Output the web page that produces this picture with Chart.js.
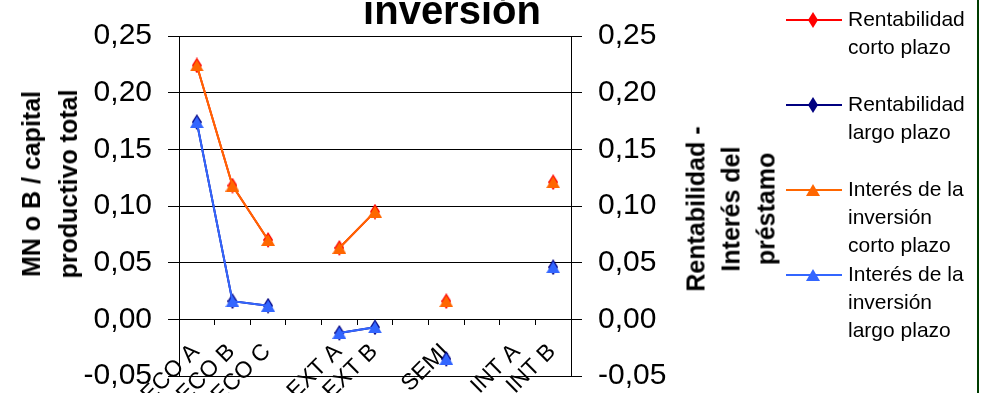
<!DOCTYPE html>
<html>
<head>
<meta charset="utf-8">
<script src="https://cdn.jsdelivr.net/npm/chart.js@4/dist/chart.umd.min.js"></script>
<style>
html, body { margin: 0; padding: 0; background: #ffffff; }
#wrap { position: relative; width: 989px; height: 393px; overflow: hidden; font-family: 'Liberation Sans', Arial, sans-serif; background: #fff; }
#c { position: absolute; left: 0; top: 0; }
.ytitle { position: absolute; white-space: nowrap; text-align: center; font-weight: bold; font-size: 25px; color: #000; transform: translate(-50%, -50%) rotate(-90deg); }
.legtext { position: absolute; font-size: 21px; line-height: 28px; color: #000; width: 122px; }
.legsym { position: absolute; }
#edge { position: absolute; left: 977px; top: 0; width: 2px; height: 393px; background: #003c00; }
</style>
</head>
<body>
<div id="wrap">
  <canvas id="c" width="989" height="393"></canvas>
  <div class="ytitle" id="leftTitle" style="left:50px; top:184px; line-height:37px;"></div>
  <div class="ytitle" id="rightTitle" style="left:731px; top:209px; line-height:35px;"></div>
  <div id="legend"></div>
  <div id="edge"></div>
</div>
<script>
// ---- data ----
const categories = ['ECO A', 'ECO B', 'ECO C', '', 'EXT A', 'EXT B', '', 'SEMI', '', 'INT A', 'INT B'];
const rentabilidadCorto = [0.224, 0.118, 0.070, null, 0.063, 0.095, null, 0.016, null, null, 0.121];
const rentabilidadLargo = [0.174, 0.016, 0.012, null, -0.012, -0.007, null, -0.035, null, null, 0.046];
const interesCorto      = [0.224, 0.118, 0.070, null, 0.063, 0.095, null, 0.016, null, null, 0.121];
const interesLargo      = [0.174, 0.016, 0.012, null, -0.012, -0.007, null, -0.035, null, null, 0.046];
const seriesNames = ['Rentabilidad corto plazo', 'Rentabilidad largo plazo',
                     'Interés de la inversión corto plazo', 'Interés de la inversión largo plazo'];
const chartTitle = 'inversión';
const leftAxisTitle = ['MN o B / capital', 'productivo total'];
const rightAxisTitle = ['Rentabilidad -', 'Interés del', 'préstamo'];
const yMin = -0.05, yMax = 0.25, yStep = 0.05;

// ---- styles ----
const COLORS = ['#ff0000', '#000080', '#ff6600', '#3366ff'];
const FONT = "'Liberation Sans', Arial, sans-serif";

function makeMarker(shape, color) {
  const w = shape === 'tri' ? 14 : 10;
  const h = shape === 'tri' ? 12 : 16;
  const cv = document.createElement('canvas');
  cv.width = w; cv.height = h;
  const g = cv.getContext('2d');
  g.fillStyle = color;
  g.beginPath();
  if (shape === 'tri') {
    g.moveTo(w / 2, 0); g.lineTo(w, h); g.lineTo(0, h);
  } else {
    g.moveTo(w / 2, 0); g.lineTo(w, h / 2); g.lineTo(w / 2, h); g.lineTo(0, h / 2);
  }
  g.closePath();
  g.fill();
  return cv;
}
const markers = [
  makeMarker('dia', COLORS[0]),
  makeMarker('dia', COLORS[1]),
  makeMarker('tri', COLORS[2]),
  makeMarker('tri', COLORS[3])
];
const seriesData = [rentabilidadCorto, rentabilidadLargo, interesCorto, interesLargo];

const fmt = v => (Math.round(v * 100) / 100).toFixed(2).replace('.', ',');

const datasets = seriesData.map((d, i) => ({
  label: seriesNames[i],
  data: d,
  borderColor: COLORS[i],
  backgroundColor: COLORS[i],
  borderWidth: 2,
  pointStyle: markers[i],
  pointRadius: 7,
  pointHoverRadius: 7,
  tension: 0,
  spanGaps: false,
  order: i < 2 ? 1 : 0,
  yAxisID: 'y'
}));

const tickFont = { family: FONT, size: 30, lineHeight: 1 };

new Chart(document.getElementById('c'), {
  type: 'line',
  data: { labels: categories, datasets },
  options: {
    responsive: false,
    animation: false,
    events: [],
    layout: { padding: { left: 0, right: 85, top: 0, bottom: 17 } },
    plugins: {
      legend: { display: false },
      tooltip: { enabled: false },
      title: {
        display: true,
        text: chartTitle,
        color: '#000',
        font: { family: FONT, size: 40, weight: 'bold', lineHeight: 1 },
        padding: { top: -7, bottom: 3 }
      }
    },
    scales: {
      x: {
        type: 'category',
        position: { y: 0 },
        offset: true,
        grid: { display: true, drawOnChartArea: false, drawTicks: true, tickLength: 5, offset: true, color: '#000', lineWidth: 1 },
        border: { display: true, color: '#000', width: 1 },
        ticks: { autoSkip: false, minRotation: 45, maxRotation: 45, labelOffset: -1, padding: 14, color: '#000',
                 font: { family: FONT, size: 23 } },
        afterFit: s => { s.height = 0; }
      },
      y: {
        position: 'left',
        min: yMin, max: yMax,
        ticks: { stepSize: yStep, padding: 16, color: '#000', font: tickFont, callback: v => fmt(v) },
        grid: { color: '#000', lineWidth: 1, tickLength: 11, drawOnChartArea: true, drawTicks: true },
        border: { display: true, color: '#000', width: 1 },
        afterFit: s => { s.width = 179; s.paddingTop = 0; s.paddingBottom = 0; }
      },
      y2: {
        position: 'right',
        min: yMin, max: yMax,
        ticks: { stepSize: yStep, padding: 16, color: '#000', font: tickFont, callback: v => fmt(v) },
        grid: { color: '#000', lineWidth: 1, tickLength: 11, drawOnChartArea: false, drawTicks: true },
        border: { display: true, color: '#000', width: 1 },
        afterFit: s => { s.width = 333; s.paddingTop = 0; s.paddingBottom = 0; }
      }
    }
  }
});

// axis titles (rotated, reading upward)
document.getElementById('leftTitle').innerHTML = leftAxisTitle.join('<br>');
document.getElementById('rightTitle').innerHTML = rightAxisTitle.join('<br>');

// legend
const legend = document.getElementById('legend');
const legTop = 4.5, legStep = 85, symLeft = 786, textLeft = 848;
datasets.forEach((ds, i) => {
  const top = legTop + legStep * i;
  const sym = document.createElement('canvas');
  sym.width = 56; sym.height = 18;
  sym.className = 'legsym';
  sym.style.left = symLeft + 'px';
  sym.style.top = (top + 15.5 - 9) + 'px';
  const g = sym.getContext('2d');
  g.strokeStyle = ds.borderColor; g.lineWidth = 2;
  g.beginPath(); g.moveTo(0, 9); g.lineTo(56, 9); g.stroke();
  const m = ds.pointStyle;
  g.drawImage(m, 27 - m.width / 2, 9 - m.height / 2);
  legend.appendChild(sym);
  const t = document.createElement('div');
  t.className = 'legtext';
  t.style.left = textLeft + 'px';
  t.style.top = top + 'px';
  t.textContent = ds.label;
  legend.appendChild(t);
});
</script>
</body>
</html>
